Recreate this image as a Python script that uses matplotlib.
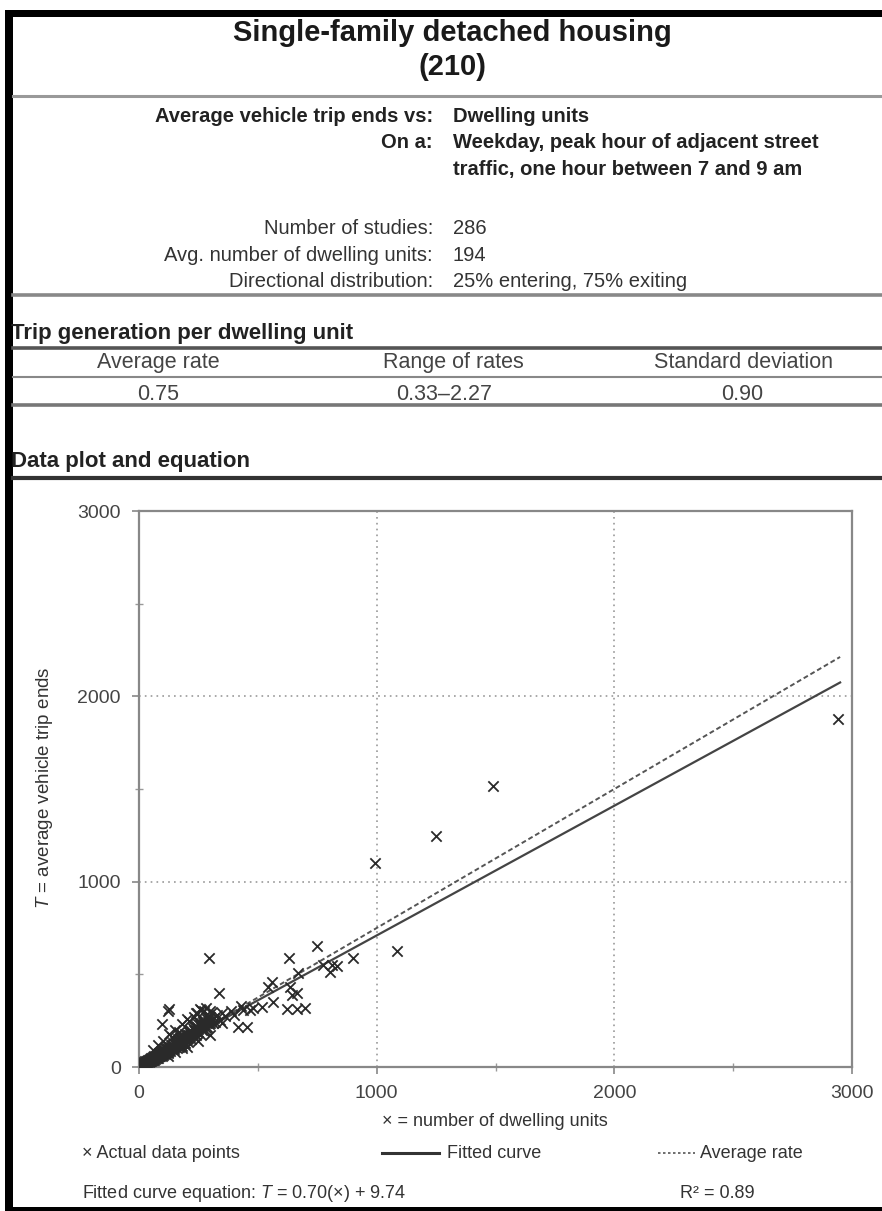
import numpy as np
import matplotlib.pyplot as plt
from matplotlib.lines import Line2D
from matplotlib.patches import Rectangle

plt.rcParams['font.family'] = ['Liberation Sans', 'DejaVu Sans']
plt.rcParams['mathtext.fontset'] = 'custom'
plt.rcParams['mathtext.it'] = 'Liberation Sans:italic'
plt.rcParams['mathtext.rm'] = 'Liberation Sans'

# site data: dense band near the origin
band_x = [5, 8, 10, 12, 14, 15, 18, 20, 22, 24,
          25, 28, 30, 32, 34, 35, 38, 40, 42, 45,
          46, 48, 50, 52, 55, 56, 58, 60, 62, 64,
          65, 68, 70, 72, 74, 75, 78, 80, 82, 84,
          85, 88, 90, 92, 94, 96, 98, 100, 102, 105,
          108, 110, 112, 115, 118, 120, 122, 125, 128, 130,
          132, 135, 138, 140, 142, 145, 148, 150, 152, 155,
          158, 160, 162, 165, 168, 170, 172, 175, 178, 180,
          182, 185, 188, 190, 192, 195, 198, 200, 205, 208,
          210, 212, 215, 218, 220, 225, 228, 230, 235, 238,
          240, 245, 248, 250, 255, 258, 260, 265, 268, 270,
          275, 280, 285, 288, 290, 295, 300, 305, 310, 315,
          320, 330, 340, 350, 60, 80, 100, 125, 150, 180,
          200, 240, 260, 280, 300, 122, 97, 126, 256, 244,
          307, 230, 275, 210, 150, 200, 250, 300, 180, 120,
          15, 20, 25, 30, 35, 40, 45, 50, 55, 60,
          65, 70, 75, 80, 85, 90, 95, 100, 105, 110,
          115, 120, 125, 130, 135, 140, 145, 150, 155, 160,
          165, 170, 175, 180, 185, 190, 195, 200, 205, 210,
          215, 220, 225, 230, 235, 240, 245, 250, 255, 260,
          265, 270, 275, 280, 285, 290, 295, 300, 140, 170]
band_y = [12, 10, 15, 14, 20, 12, 22, 18, 25, 16,
          30, 22, 28, 35, 24, 30, 40, 32, 28, 38,
          45, 35, 42, 30, 48, 40, 52, 45, 38, 55,
          50, 44, 60, 52, 48, 65, 58, 70, 50, 62,
          75, 66, 58, 80, 70, 62, 85, 75, 68, 90,
          78, 70, 95, 82, 105, 88, 75, 100, 92, 110,
          85, 120, 98, 105, 130, 112, 95, 125, 140, 118,
          105, 132, 150, 122, 110, 140, 160, 128, 148, 115,
          170, 138, 155, 130, 180, 145, 162, 150, 175, 135,
          190, 160, 200, 170, 150, 185, 210, 165, 195, 175,
          220, 190, 230, 205, 180, 240, 215, 200, 250, 225,
          195, 235, 260, 215, 245, 230, 270, 250, 235, 265,
          245, 280, 255, 290, 90, 120, 140, 180, 200, 230,
          260, 290, 310, 320, 300, 302, 230, 312, 312, 290,
          296, 270, 300, 250, 80, 110, 140, 170, 100, 60,
          18, 14, 20, 26, 22, 36, 30, 48, 36, 40,
          58, 48, 55, 62, 68, 72, 78, 65, 80, 88,
          95, 80, 110, 95, 105, 118, 100, 110, 130, 120,
          140, 125, 150, 138, 160, 150, 130, 170, 155, 175,
          165, 190, 170, 200, 180, 200, 215, 190, 225, 240,
          220, 245, 230, 210, 240, 265, 250, 240, 160, 190]

# the more spread-out sites
spread_x = [336, 416, 454, 466, 437, 479, 517, 563, 559, 542,
            634, 664, 643, 668, 622, 664, 697, 630, 748, 773,
            811, 832, 803, 900, 1085, 995, 1250, 1490, 2940, 294,
            360, 385, 400, 430, 350]
spread_y = [399, 215, 215, 307, 310, 318, 323, 350, 458, 431,
            431, 398, 390, 505, 312, 312, 318, 590, 655, 549,
            549, 544, 512, 590, 625, 1100, 1245, 1515, 1880, 587,
            275, 300, 280, 330, 240]

fit_slope = 0.70
fit_intercept = 9.74
avg_rate = 0.75
line_end = 2950

W, H = 882, 1211
fig = plt.figure(figsize=(W / 100, H / 100), dpi=100)
fig.patch.set_facecolor('white')


def fx(px):
    return px / W


def fy(py):
    return 1 - py / H


def txt(px, py, s, size, ha='left', weight='normal', color='#333', **kw):
    fig.text(fx(px), fy(py), s, fontsize=size, ha=ha, va='center',
             fontweight=weight, color=color, **kw)


def hline(py, x0, x1, lw, color, **kw):
    fig.add_artist(Line2D([fx(x0), fx(x1)], [fy(py), fy(py)],
                          transform=fig.transFigure, lw=lw, color=color, **kw))


# black page border (left, top, bottom)
for x0, y0, x1, y1 in [(5, 10, 13, 1211), (5, 10, 882, 17), (5, 1207, 882, 1211)]:
    fig.add_artist(Rectangle((fx(x0), fy(y1)), fx(x1) - fx(x0), fy(y0) - fy(y1),
                             transform=fig.transFigure, color='black', lw=0))

# header
txt(452, 33, 'Single-family detached housing', 21, ha='center', weight='bold', color='#1a1a1a')
txt(452, 67, '(210)', 21, ha='center', weight='bold', color='#1a1a1a')
hline(96, 13, 882, 2.2, '#999')

txt(433, 117, 'Average vehicle trip ends vs:', 14.5, ha='right', weight='bold', color='#222')
txt(453, 117, 'Dwelling units', 14.5, weight='bold', color='#222')
txt(433, 143, 'On a:', 14.5, ha='right', weight='bold', color='#222')
txt(453, 143, 'Weekday, peak hour of adjacent street', 14.5, weight='bold', color='#222')
txt(453, 169, 'traffic, one hour between 7 and 9 am', 14.5, weight='bold', color='#222')

info_labels = ['Number of studies:', 'Avg. number of dwelling units:', 'Directional distribution:']
info_values = ['286', '194', '25% entering, 75% exiting']
for i, (lab, val) in enumerate(zip(info_labels, info_values)):
    txt(433, 229 + 26.5 * i, lab, 14.5, ha='right', color='#333')
    txt(453, 229 + 26.5 * i, val, 14.5, color='#333')
hline(295, 13, 882, 2.6, '#888')

# rate table
txt(11, 333, 'Trip generation per dwelling unit', 16, weight='bold', color='#222')
hline(348, 13, 882, 2.6, '#555')
table_heads = ['Average rate', 'Range of rates', 'Standard deviation']
table_vals = ['0.75', '0.33\u20132.27', '0.90']
for cx, head in zip([158, 453, 744], table_heads):
    txt(cx, 363, head, 15.5, ha='center', color='#444')
for cx, val in zip([158, 444, 742], table_vals):
    txt(cx, 395, val, 15.5, ha='center', color='#444')
hline(377, 13, 882, 1.5, '#888')
hline(405, 13, 882, 2.6, '#777')

txt(11, 462, 'Data plot and equation', 16, weight='bold', color='#222')
hline(478, 13, 882, 3, '#333')

# scatter plot
ax = fig.add_axes([fx(139), fy(1067), fx(852) - fx(139), fy(511) - fy(1067)])
for v in [1000, 2000]:
    ax.axvline(v, color='#999', lw=1.2, ls=(0, (1, 2.5)), zorder=0)
    ax.axhline(v, color='#999', lw=1.2, ls=(0, (1, 2.5)), zorder=0)

ax.scatter(band_x, band_y, marker='x', s=55, c='#2a2a2a', linewidths=1.3, zorder=3)
ax.scatter(spread_x, spread_y, marker='x', s=55, c='#2a2a2a', linewidths=1.3, zorder=3)

lx = np.array([0, line_end])
ax.plot(lx, fit_slope * lx + fit_intercept, color='#444', lw=1.6, zorder=2)
ax.plot(lx, avg_rate * lx, color='#555', lw=1.4, ls=(0, (2.5, 1.5)), zorder=2)

ax.set_xlim(0, 3000)
ax.set_ylim(0, 3000)
ax.set_xticks([0, 1000, 2000, 3000])
ax.set_yticks([0, 1000, 2000, 3000])
ax.set_xticks([500, 1500, 2500], minor=True)
ax.set_yticks([500, 1500, 2500], minor=True)
for sp in ax.spines.values():
    sp.set_color('#888')
    sp.set_linewidth(1.6)
ax.tick_params(which='major', direction='out', length=5, width=1.2, color='#888',
               labelsize=14, labelcolor='#444', pad=8)
ax.tick_params(which='minor', direction='inout', length=6, width=1, color='#999')

txt(45, 788, '$T$ = average vehicle trip ends', 13.5, ha='center', color='#333', rotation=90)
txt(495, 1122, '\u00d7 = number of dwelling units', 13, ha='center', color='#333')

# legend and equation
txt(82, 1153, '\u00d7 Actual data points', 13, color='#333')
hline(1153, 382, 439, 2.2, '#333')
txt(447, 1153, 'Fitted curve', 13, color='#333')
hline(1153, 658, 695, 1.2, '#555', ls=(0, (1.5, 1.5)))
txt(700, 1153, 'Average rate', 13, color='#333')
txt(82, 1193, 'Fitted curve equation: $T$ = 0.70(\u00d7) + 9.74', 13, color='#333')
txt(680, 1193, 'R\u00b2 = 0.89', 13, color='#333')

fig.savefig('out.png', dpi=100, facecolor='white')
